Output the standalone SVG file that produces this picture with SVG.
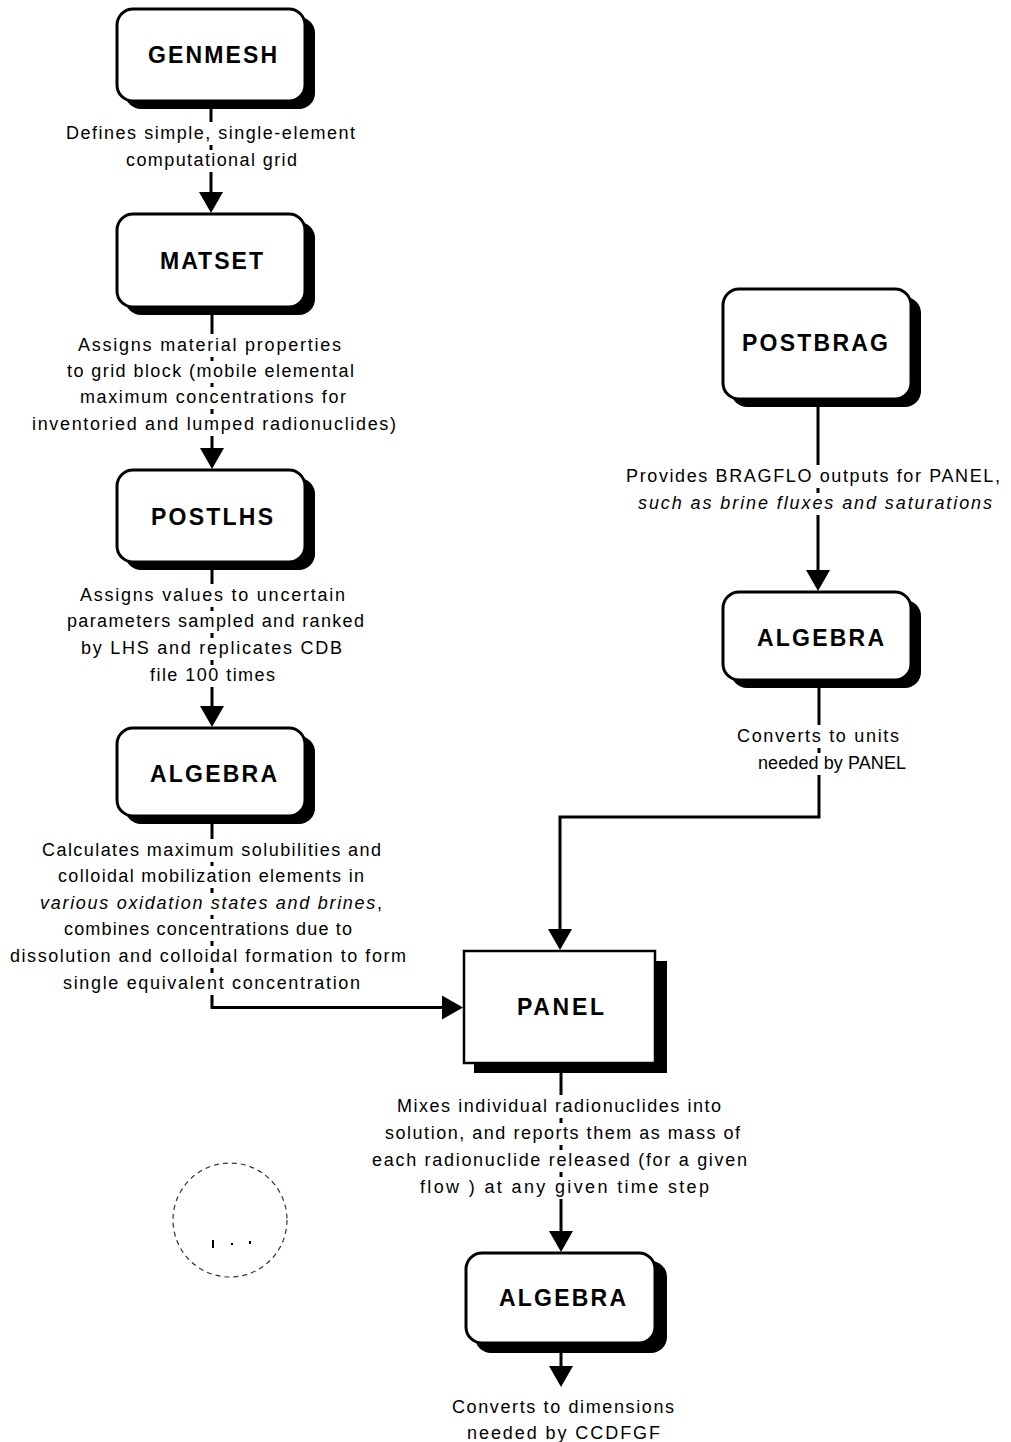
<svg xmlns="http://www.w3.org/2000/svg" width="1011" height="1442" viewBox="0 0 1011 1442">
<style>
.sh{fill:#000}
.bx{fill:#fff;stroke:#000;stroke-width:3}
.tt{font-family:"Liberation Sans",Arial,sans-serif;font-weight:bold;font-size:23px;fill:#000}
.tx{font-family:"Liberation Sans",Arial,sans-serif;font-size:18px;fill:#000}
.it{font-style:italic}
.ln{fill:none;stroke:#000;stroke-width:3}
</style>
<defs>
<marker id="ah" viewBox="0 -12 21 24" refX="0" refY="0" markerWidth="21" markerHeight="24" markerUnits="userSpaceOnUse" orient="auto">
<path d="M0,-12 L21,0 L0,12 Z" fill="#000"/>
</marker>
</defs>
<rect width="1011" height="1442" fill="#fff"/>

<g id="connectors">
<path class="ln" d="M211,108 V122 M211,145 V150 M211,172 V192" marker-end="url(#ah)"/>
<path class="ln" d="M212,315 V334 M212,357 V361 M212,383 V387 M212,409 V414 M212,436 V448" marker-end="url(#ah)"/>
<path class="ln" d="M212,570 V584 M212,607 V611 M212,633 V638 M212,660 V665 M212,687 V706" marker-end="url(#ah)"/>
<path class="ln" d="M212,824 V839 M212,862 V866 M212,888 V893 M212,915 V919 M212,941 V946 M212,968 V973 M212,995 V1007.5 H442" marker-end="url(#ah)"/>
<path class="ln" d="M818,406 V465 M818,488 V493 M818,515 V570" marker-end="url(#ah)"/>
<path class="ln" d="M819,688 V725 M819,748 V753 M819,775 V817 H560 V929" marker-end="url(#ah)"/>
<path class="ln" d="M561,1073 V1095 M561,1118 V1123 M561,1145 V1150 M561,1172 V1177 M561,1199 V1231" marker-end="url(#ah)"/>
<path class="ln" d="M561,1352 V1366" marker-end="url(#ah)"/>
</g>

<g id="genmesh">
<rect class="sh" x="125" y="17" width="190" height="92" rx="16"/>
<rect class="bx" x="117" y="9" width="188" height="92" rx="16"/>
<text class="tt" x="148" y="63" textLength="129" lengthAdjust="spacing">GENMESH</text>
<text class="tx" x="66" y="139" textLength="289" lengthAdjust="spacing">Defines simple, single-element</text>
<text class="tx" x="126" y="166" textLength="171" lengthAdjust="spacing">computational grid</text>
</g>

<g id="matset">
<rect class="sh" x="125" y="222" width="190" height="93" rx="16"/>
<rect class="bx" x="117" y="214" width="188" height="93" rx="16"/>
<text class="tt" x="160" y="269" textLength="103" lengthAdjust="spacing">MATSET</text>
<text class="tx" x="78" y="351" textLength="263" lengthAdjust="spacing">Assigns material properties</text>
<text class="tx" x="67" y="377" textLength="287" lengthAdjust="spacing">to grid block (mobile elemental</text>
<text class="tx" x="80" y="403" textLength="266" lengthAdjust="spacing">maximum concentrations for</text>
<text class="tx" x="32" y="430" textLength="364" lengthAdjust="spacing">inventoried and lumped radionuclides)</text>
</g>

<g id="postlhs">
<rect class="sh" x="125" y="478" width="190" height="92" rx="16"/>
<rect class="bx" x="117" y="470" width="188" height="92" rx="16"/>
<text class="tt" x="151" y="525" textLength="122" lengthAdjust="spacing">POSTLHS</text>
<text class="tx" x="80" y="601" textLength="265" lengthAdjust="spacing">Assigns values to uncertain</text>
<text class="tx" x="67" y="627" textLength="297" lengthAdjust="spacing">parameters sampled and ranked</text>
<text class="tx" x="81" y="654" textLength="261" lengthAdjust="spacing">by LHS and replicates CDB</text>
<text class="tx" x="150" y="681" textLength="125" lengthAdjust="spacing">file 100 times</text>
</g>

<g id="algebra1">
<rect class="sh" x="125" y="736" width="190" height="88" rx="16"/>
<rect class="bx" x="117" y="728" width="188" height="88" rx="16"/>
<text class="tt" x="150" y="782" textLength="127" lengthAdjust="spacing">ALGEBRA</text>
<text class="tx" x="42" y="856" textLength="339" lengthAdjust="spacing">Calculates maximum solubilities and</text>
<text class="tx" x="58" y="882" textLength="306" lengthAdjust="spacing">colloidal mobilization elements in</text>
<text class="tx" x="40" y="909" textLength="342" lengthAdjust="spacing"><tspan class="it">various oxidation states and brines</tspan>,</text>
<text class="tx" x="64" y="935" textLength="288" lengthAdjust="spacing">combines concentrations due to</text>
<text class="tx" x="10" y="962" textLength="396" lengthAdjust="spacing">dissolution and colloidal formation to form</text>
<text class="tx" x="63" y="989" textLength="297" lengthAdjust="spacing">single equivalent concentration</text>
</g>

<g id="postbrag">
<rect class="sh" x="731" y="297" width="190" height="110" rx="16"/>
<rect class="bx" x="723" y="289" width="188" height="110" rx="16"/>
<text class="tt" x="742" y="351" textLength="146" lengthAdjust="spacing">POSTBRAG</text>
<text class="tx" x="626" y="482" textLength="374" lengthAdjust="spacing">Provides BRAGFLO outputs for PANEL,</text>
<text class="tx it" x="638" y="509" textLength="354" lengthAdjust="spacing">such as brine fluxes and saturations</text>
</g>

<g id="algebra2">
<rect class="sh" x="731" y="600" width="190" height="88" rx="16"/>
<rect class="bx" x="723" y="592" width="188" height="88" rx="16"/>
<text class="tt" x="757" y="646" textLength="127" lengthAdjust="spacing">ALGEBRA</text>
<text class="tx" x="737" y="742" textLength="162" lengthAdjust="spacing">Converts to units</text>
<text class="tx" x="758" y="769" textLength="148" lengthAdjust="spacing">needed by PANEL</text>
</g>

<g id="panel">
<rect class="sh" x="474" y="961" width="193" height="112"/>
<rect x="464" y="951" width="191" height="112" fill="#fff" stroke="#000" stroke-width="2.5"/>
<text class="tt" x="517" y="1015" textLength="87" lengthAdjust="spacing">PANEL</text>
<text class="tx" x="397" y="1112" textLength="324" lengthAdjust="spacing">Mixes individual radionuclides into</text>
<text class="tx" x="385" y="1139" textLength="355" lengthAdjust="spacing">solution, and reports them as mass of</text>
<text class="tx" x="372" y="1166" textLength="375" lengthAdjust="spacing">each radionuclide released (for a given</text>
<text class="tx" x="420" y="1193" textLength="289" lengthAdjust="spacing">flow ) at any given time step</text>
</g>

<g id="algebra3">
<rect class="sh" x="475" y="1261" width="192" height="92" rx="16"/>
<rect class="bx" x="466" y="1253" width="189" height="90" rx="16"/>
<text class="tt" x="499" y="1306" textLength="127" lengthAdjust="spacing">ALGEBRA</text>
<text class="tx" x="452" y="1413" textLength="222" lengthAdjust="spacing">Converts to dimensions</text>
<text class="tx" x="467" y="1439" textLength="193" lengthAdjust="spacing">needed by CCDFGF</text>
</g>

<g id="stamp">
<circle cx="230" cy="1220" r="57" fill="none" stroke="#333" stroke-width="1.2" stroke-dasharray="5 4"/>
<rect x="212" y="1240" width="2" height="8" fill="#000"/>
<rect x="231" y="1243" width="2" height="2" fill="#000"/>
<rect x="249" y="1241" width="2" height="3" fill="#000"/>
</g>
</svg>
